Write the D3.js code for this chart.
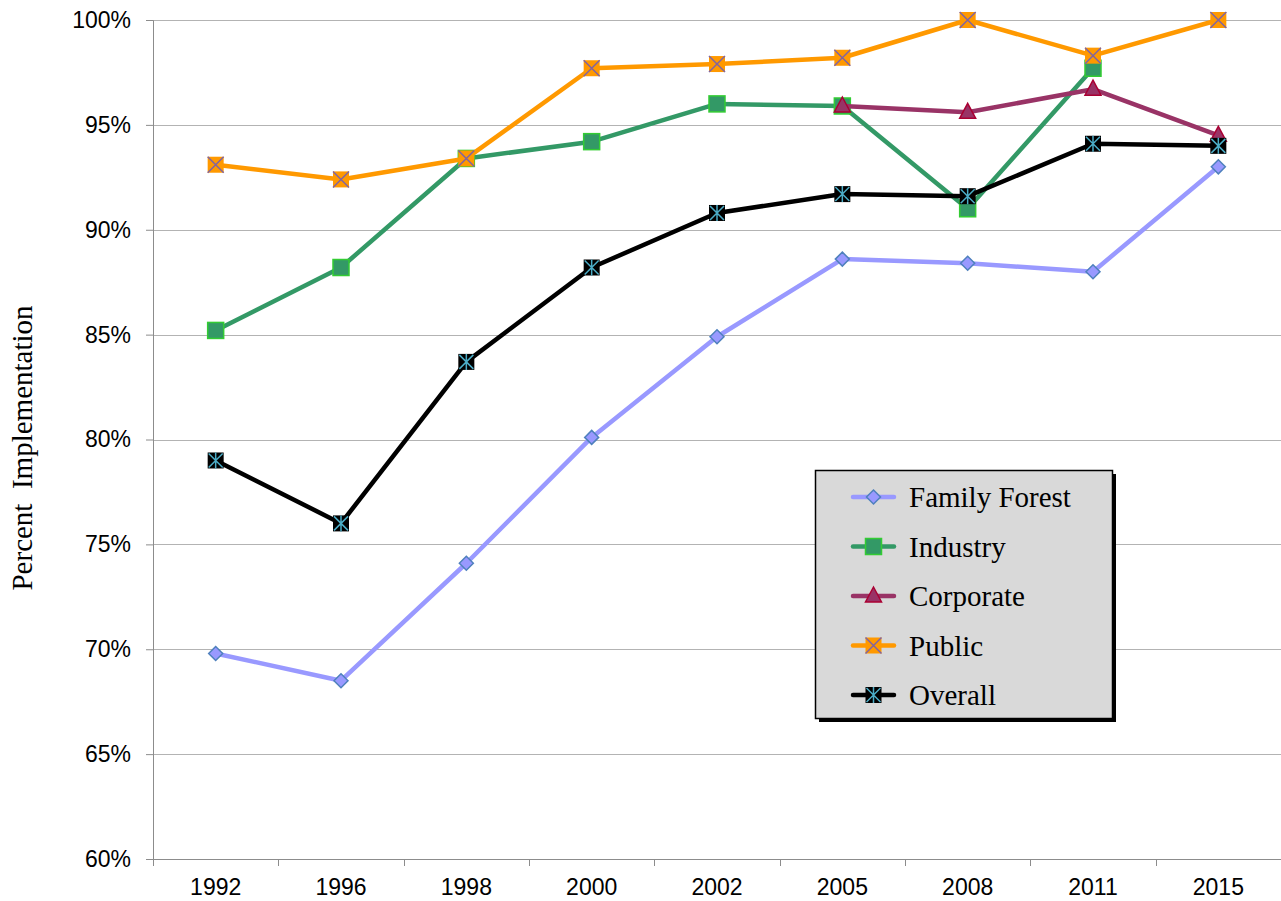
<!DOCTYPE html>
<html>
<head>
<meta charset="utf-8">
<script src="https://cdn.jsdelivr.net/npm/d3@7"></script>
<style>
  body { margin: 0; background: #fff; }
  .tick text { font-family: "Liberation Sans", Arial, sans-serif; font-size: 23px; fill: #000; }
</style>
</head>
<body>
<div id="chart"></div>
<script>
// categories and series values (percent)
var years = ["1992", "1996", "1998", "2000", "2002", "2005", "2008", "2011", "2015"];
var familyForest = [69.8, 68.5, 74.1, 80.1, 84.9, 88.6, 88.4, 88.0, 93.0];
var industry = [85.2, 88.2, 93.4, 94.2, 96.0, 95.9, 91.0, 97.7, null];
var corporate = [null, null, null, null, null, 95.9, 95.6, 96.7, 94.5];
var publicLand = [93.1, 92.4, 93.4, 97.7, 97.9, 98.2, 100, 98.3, 100];
var overall = [79.0, 76.0, 83.7, 88.2, 90.8, 91.7, 91.6, 94.1, 94.0];
var yTicks = [60, 65, 70, 75, 80, 85, 90, 95, 100];

var series = [
  { name: "Family Forest", values: familyForest, line: "#9999ff", marker: "diamond", fill: "#9999ff", stroke: "#4f81bd" },
  { name: "Industry", values: industry, line: "#339966", marker: "square", fill: "#339966", stroke: "#33cc33" },
  { name: "Corporate", values: corporate, line: "#993366", marker: "triangle", fill: "#993366", stroke: "#aa0033" },
  { name: "Public", values: publicLand, line: "#ff9900", marker: "xsquare", fill: "#ff9900", stroke: "#8064a2" },
  { name: "Overall", values: overall, line: "#000000", marker: "star", fill: "#000000", stroke: "#4bacc6" }
];

var svgWidth = 1281, svgHeight = 901;
var margin = { top: 20, right: 0, bottom: 42, left: 153 };
var width = svgWidth - margin.left - margin.right;
var height = svgHeight - margin.top - margin.bottom;

var svg = d3.select("#chart").append("svg")
  .attr("width", svgWidth)
  .attr("height", svgHeight);

var chartGroup = svg.append("g")
  .attr("transform", `translate(${margin.left}, ${margin.top})`);

var xScale = d3.scaleBand().domain(years).range([0, width]);
var yScale = d3.scaleLinear().domain([60, 100]).range([height, 0]);

// gridlines
chartGroup.append("g")
  .selectAll("line")
  .data(yTicks.slice(1))
  .enter()
  .append("line")
  .attr("x1", 0)
  .attr("x2", width)
  .attr("y1", d => Math.round(yScale(d)) + 0.5)
  .attr("y2", d => Math.round(yScale(d)) + 0.5)
  .attr("stroke", "#b3b3b3")
  .attr("stroke-width", 1);

// y axis
var yAxis = chartGroup.append("g")
  .call(d3.axisLeft(yScale).tickValues(yTicks).tickFormat(d => d + "%").tickSize(7).tickPadding(15));
yAxis.select(".domain").attr("stroke", "#8c8c8c");
yAxis.selectAll(".tick line").attr("stroke", "#8c8c8c");

// x axis: ticks between categories
var xAxis = chartGroup.append("g")
  .attr("transform", `translate(0, ${height})`)
  .call(d3.axisBottom(xScale).tickSize(0).tickPadding(20));
xAxis.select(".domain").attr("stroke", "#8c8c8c");
xAxis.selectAll(".boundary")
  .data(d3.range(years.length + 1))
  .enter()
  .append("line")
  .attr("x1", i => Math.round(i * xScale.step()) + 0.5)
  .attr("x2", i => Math.round(i * xScale.step()) + 0.5)
  .attr("y1", 0)
  .attr("y2", 7)
  .attr("stroke", "#8c8c8c");

var cx = (d, i) => xScale(years[i]) + xScale.bandwidth() / 2;

function drawMarker(g, type, fill, stroke, x, y) {
  var s = 8;
  if (type === "diamond") {
    g.append("path")
      .attr("d", `M${x},${y - 7}L${x + 7},${y}L${x},${y + 7}L${x - 7},${y}Z`)
      .attr("fill", fill).attr("stroke", stroke).attr("stroke-width", 1.5);
  } else if (type === "square") {
    g.append("rect")
      .attr("x", x - s).attr("y", y - s).attr("width", 2 * s).attr("height", 2 * s)
      .attr("fill", fill).attr("stroke", stroke).attr("stroke-width", 1.5);
  } else if (type === "triangle") {
    g.append("path")
      .attr("d", `M${x},${y - 9}L${x + 8},${y + 6}L${x - 8},${y + 6}Z`)
      .attr("fill", fill).attr("stroke", stroke).attr("stroke-width", 1.5);
  } else if (type === "xsquare") {
    g.append("rect")
      .attr("x", x - s).attr("y", y - s).attr("width", 2 * s).attr("height", 2 * s)
      .attr("fill", fill);
    g.append("path")
      .attr("d", `M${x - s},${y - s}L${x + s},${y + s}M${x + s},${y - s}L${x - s},${y + s}`)
      .attr("stroke", stroke).attr("stroke-width", 1.5);
  } else if (type === "star") {
    g.append("rect")
      .attr("x", x - s).attr("y", y - s).attr("width", 2 * s).attr("height", 2 * s)
      .attr("fill", fill);
    g.append("path")
      .attr("d", `M${x - s + 1},${y - s + 1}L${x + s - 1},${y + s - 1}M${x + s - 1},${y - s + 1}L${x - s + 1},${y + s - 1}M${x},${y - s}L${x},${y + s}`)
      .attr("stroke", stroke).attr("stroke-width", 1.5);
  }
}

// lines and markers
series.forEach(function(s) {
  var g = chartGroup.append("g");
  var line = d3.line()
    .defined(d => d !== null)
    .x(cx)
    .y(d => yScale(d));
  g.append("path")
    .datum(s.values)
    .attr("d", line)
    .attr("fill", "none")
    .attr("stroke", s.line)
    .attr("stroke-width", 4.5)
    .attr("stroke-linejoin", "round");
  s.values.forEach(function(v, i) {
    if (v === null) return;
    drawMarker(g, s.marker, s.fill, s.stroke, cx(v, i), yScale(v));
  });
});

// y axis title
svg.append("text")
  .attr("transform", "translate(32, 448) rotate(-90)")
  .attr("text-anchor", "middle")
  .style("font-family", "'Liberation Serif', 'Times New Roman', serif")
  .style("font-size", "29px")
  .style("white-space", "pre")
  .text("Percent  Implementation");

// legend
var legend = svg.append("g").attr("transform", "translate(815, 470)");
legend.append("rect")
  .attr("x", 4).attr("y", 4).attr("width", 297).attr("height", 248)
  .attr("fill", "#000");
legend.append("rect")
  .attr("x", 0.5).attr("y", 0.5).attr("width", 297).attr("height", 248)
  .attr("fill", "#d9d9d9").attr("stroke", "#000").attr("stroke-width", 1.5);

series.forEach(function(s, i) {
  var y = 27 + i * 49.5;
  var item = legend.append("g");
  item.append("line")
    .attr("x1", 38).attr("x2", 79).attr("y1", y).attr("y2", y)
    .attr("stroke", s.line).attr("stroke-width", 4.5).attr("stroke-linecap", "round");
  drawMarker(item, s.marker, s.fill, s.stroke, 58.5, y);
  item.append("text")
    .attr("x", 94)
    .attr("y", y + 10)
    .style("font-family", "'Liberation Serif', 'Times New Roman', serif")
    .style("font-size", "29px")
    .text(s.name);
});
</script>
</body>
</html>
